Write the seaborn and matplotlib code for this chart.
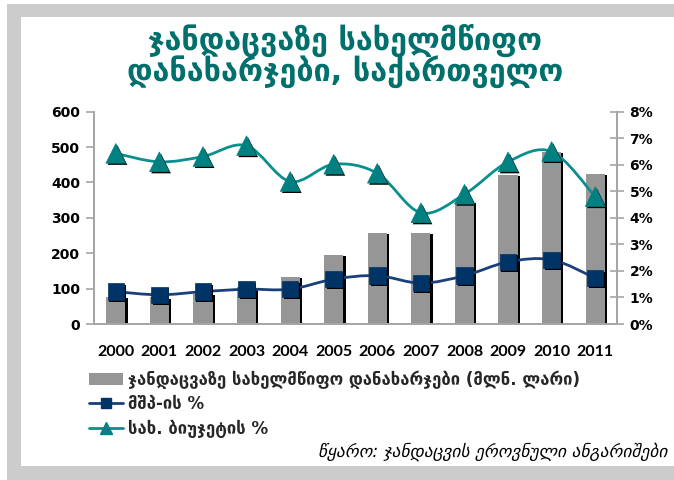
import numpy as np
import pandas as pd
import matplotlib
matplotlib.use("Agg")
import matplotlib.pyplot as plt
import matplotlib.patheffects as pe
from matplotlib.path import Path
from matplotlib.patches import PathPatch, Rectangle, Patch
from matplotlib.lines import Line2D
from matplotlib.ticker import FuncFormatter, MultipleLocator, FixedLocator
import seaborn as sns

# --- data -------------------------------------------------------------
years = ["2000", "2001", "2002", "2003", "2004", "2005",
         "2006", "2007", "2008", "2009", "2010", "2011"]
spending_mln_gel = [77, 75, 85, 105, 133, 195, 257, 257, 345, 421, 487, 424]
share_gdp_pct = [1.22, 1.10, 1.22, 1.31, 1.31, 1.69, 1.82, 1.54, 1.82, 2.34, 2.42, 1.73]
share_budget_pct = [6.43, 6.11, 6.31, 6.72, 5.37, 6.02, 5.68, 4.19, 4.89, 6.11, 6.50, 4.80]

title_lines = ["ჯანდაცვაზე სახელმწიფო", "დანახარჯები, საქართველო"]
label_spending = "ჯანდაცვაზე სახელმწიფო დანახარჯები (მლნ. ლარი)"
label_gdp = "მშპ-ის %"
label_budget = "სახ. ბიუჯეტის %"
source_text = "წყარო: ჯანდაცვის ეროვნული ანგარიშები"

# --- style ------------------------------------------------------------
sns.set_theme(style="white")
plt.rcParams["font.family"] = ["DejaVu Sans"]

BAR_GRAY = "#969696"
NAVY = "#003366"
NAVY_LINE = "#1a3f7a"
TEAL = "#008080"
TEAL_LINE = "#0a8f8f"
TITLE_TEAL = "#00706c"
AXIS_GRAY = "#a6a6a6"

W, H = 674, 480
fig = plt.figure(figsize=(W / 100, H / 100), dpi=100)
fig.patch.set_facecolor("white")

# gray frame bands (top, left, bottom)
frame = "#cccccc"
for (x0, y0, w, h) in [(7, 4, 667, 13), (7, 4, 14, 476), (7, 466, 667, 14)]:
    fig.patches.append(Rectangle((x0 / W, 1 - (y0 + h) / H), w / W, h / H,
                                 transform=fig.transFigure, facecolor=frame,
                                 edgecolor="none", zorder=0))

ax = fig.add_axes([94 / W, 1 - 324 / H, (617 - 94) / W, (324 - 111.7) / H])
ax.set_facecolor("none")

df = pd.DataFrame({"year": years, "spend": spending_mln_gel,
                   "gdp": share_gdp_pct, "budget": share_budget_pct})
df["pos"] = np.arange(len(df))

# spending bars with a black drop shadow on the right
sns.barplot(data=df, x="year", y="spend", color=BAR_GRAY, width=0.44,
            saturation=1, ax=ax, zorder=2)
for bar in ax.patches:
    bar.set_edgecolor("none")
    bar.set_path_effects([pe.SimplePatchShadow(offset=(1.6, -0.8),
                                               shadow_rgbFace="black", alpha=1.0),
                          pe.Normal()])

ax.set_ylim(0, 600)
ax.set_xlim(-0.5, len(years) - 0.5)
ax.yaxis.set_major_locator(MultipleLocator(100))
ax.set_xlabel("")
ax.set_ylabel("")

# percentage axis on the right
ax2 = ax.twinx()
ax2.set_ylim(0, 8)
ax2.yaxis.set_major_locator(MultipleLocator(1))
ax2.yaxis.set_major_formatter(FuncFormatter(lambda v, _: f"{v:.0f}%"))


def smooth_path(xs, ys):
    """Cubic Bezier path through the points (Catmull-Rom style tangents)."""
    pts = np.column_stack([xs, ys]).astype(float)
    n = len(pts)
    verts = [pts[0]]
    codes = [Path.MOVETO]
    for i in range(n - 1):
        p0 = pts[i - 1] if i > 0 else pts[i]
        p1 = pts[i]
        p2 = pts[i + 1]
        p3 = pts[i + 2] if i + 2 < n else pts[i + 1]
        c1 = p1 + (p2 - p0) / 6.0
        c2 = p2 - (p3 - p1) / 6.0
        verts += [c1, c2, p2]
        codes += [Path.CURVE4] * 3
    return Path(verts, codes)


for col, lc in [("gdp", NAVY_LINE), ("budget", TEAL_LINE)]:
    ax2.add_patch(PathPatch(smooth_path(df["pos"], df[col]), fill=False,
                            edgecolor=lc, lw=2.0, zorder=3))

shadow = [pe.SimplePatchShadow(offset=(1.2, -1.2), shadow_rgbFace="black", alpha=1.0),
          pe.Normal()]
sns.scatterplot(data=df, x="pos", y="gdp", marker="s", s=140, color=NAVY,
                edgecolor=NAVY, linewidth=0.5, ax=ax2, zorder=4, legend=False)
sns.scatterplot(data=df, x="pos", y="budget", marker="^", s=200, color=TEAL,
                edgecolor=TEAL, linewidth=0.5, ax=ax2, zorder=4, legend=False)
for coll in ax2.collections:
    coll.set_path_effects(shadow)
ax2.set_xlim(-0.5, len(years) - 0.5)
ax2.set_xlabel("")
ax2.set_ylabel("")

# axes look
for a in (ax, ax2):
    a.spines["top"].set_visible(False)
    for side in ("left", "right", "bottom"):
        a.spines[side].set_color(AXIS_GRAY)
        a.spines[side].set_linewidth(1.3)

ax.tick_params(axis="y", which="major", direction="out", length=6, width=1.2,
               color=AXIS_GRAY, pad=4, labelsize=10)
ax2.tick_params(axis="y", which="major", direction="inout", length=10, width=1.2,
                color=AXIS_GRAY, pad=4, labelsize=10)
for lab in ax.get_yticklabels() + ax2.get_yticklabels():
    lab.set_fontweight("bold")
    lab.set_color("black")

ax.xaxis.set_minor_locator(FixedLocator(np.arange(len(years) + 1) - 0.5))
ax.tick_params(axis="x", which="minor", direction="out", length=7, width=1.2,
               color=AXIS_GRAY)
ax.tick_params(axis="x", which="major", length=0, pad=15)
ax.set_xticks(df["pos"])
ax.set_xticklabels(years, fontfamily="Lato", fontweight="bold", fontsize=11.5,
                   color="black")
ax2.tick_params(axis="x", which="both", length=0)

# title
for i, line in enumerate(title_lines):
    fig.text(345 / W, 1 - (40 + 32 * i) / H, line, ha="center", va="center",
             fontsize=22, fontweight="bold", color=TITLE_TEAL)

# legend
handles = [
    Patch(facecolor=BAR_GRAY, edgecolor="none"),
    Line2D([], [], color=NAVY_LINE, lw=2, marker="s", markersize=7,
           markerfacecolor=NAVY, markeredgecolor=NAVY),
    Line2D([], [], color=TEAL_LINE, lw=2, marker="^", markersize=8,
           markerfacecolor=TEAL, markeredgecolor=TEAL),
]
fig.legend(handles, [label_spending, label_gdp, label_budget],
           loc="upper left", bbox_to_anchor=(81 / W, 1 - 362 / H),
           frameon=False, borderpad=0, handlelength=2.0, handleheight=0.8,
           handletextpad=0.3, labelspacing=0.38,
           prop={"family": "DejaVu Sans", "weight": "bold", "size": 12})

fig.text(667 / W, 1 - 452 / H, source_text, ha="right", va="center",
         fontsize=12.5, fontstyle="italic", color="black")

fig.savefig("out.png", dpi=100, facecolor=fig.get_facecolor())
